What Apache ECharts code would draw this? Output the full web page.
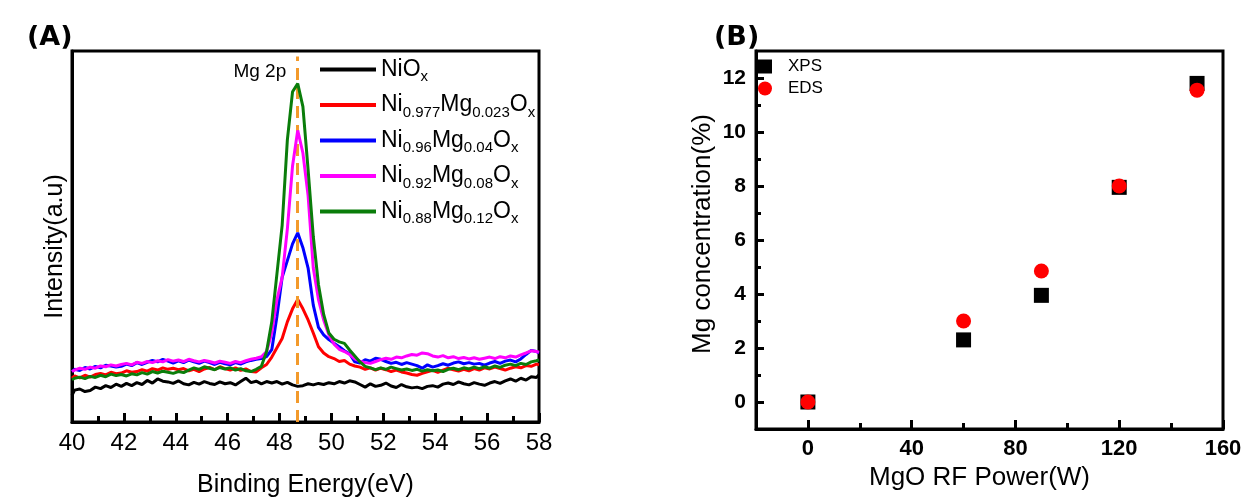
<!DOCTYPE html>
<html>
<head>
<meta charset="utf-8">
<script src="https://cdn.jsdelivr.net/npm/echarts@6/dist/echarts.min.js"></script>
<style>
  html, body { margin: 0; padding: 0; background: #ffffff; }
  #chart { width: 1250px; height: 503px; }
</style>
</head>
<body>
<div id="chart"></div>
<script>
// ---- Panel (A): Mg 2p XPS spectra ----
const energyEV = [
  40.0, 40.1, 40.3, 40.5, 40.7, 40.9, 41.1, 41.3, 41.5, 41.7,
  41.9, 42.1, 42.3, 42.5, 42.7, 42.9, 43.1, 43.3, 43.5, 43.7,
  43.9, 44.1, 44.3, 44.5, 44.7, 44.9, 45.1, 45.3, 45.5, 45.7,
  45.9, 46.1, 46.3, 46.5, 46.7, 46.9, 47.1, 47.3, 47.5, 47.7,
  47.9, 48.1, 48.3, 48.5, 48.7, 48.9, 49.1, 49.3, 49.5, 49.7,
  49.9, 50.1, 50.3, 50.5, 50.7, 50.9, 51.1, 51.3, 51.5, 51.7,
  51.9, 52.1, 52.3, 52.5, 52.7, 52.9, 53.1, 53.3, 53.5, 53.7,
  53.9, 54.1, 54.3, 54.5, 54.7, 54.9, 55.1, 55.3, 55.5, 55.7,
  55.9, 56.1, 56.3, 56.5, 56.7, 56.9, 57.1, 57.3, 57.5, 57.7,
  57.9, 58.0
];

const niOx = [
  7.2, 8.6, 8.9, 8.2, 8.5, 9.4, 9.0, 9.8, 9.3, 10.2,
  9.6, 10.4, 9.8, 10.6, 10.1, 11.2, 10.5, 11.6, 11.0, 10.8,
  10.4, 11.1, 10.3, 10.0, 10.7, 10.2, 10.9, 10.4, 10.1, 10.8,
  10.3, 10.6, 10.0, 10.9, 11.8, 10.6, 11.0, 10.3, 10.9, 10.5,
  10.9, 10.2, 10.7, 10.0, 9.6, 9.8, 10.3, 10.0, 10.4, 10.1,
  10.6, 10.3, 10.9, 10.5, 11.1, 10.8, 10.1, 9.4, 10.3, 9.6,
  9.9, 10.5, 9.7, 9.3, 10.1, 9.5, 9.2, 9.4, 9.0, 9.6,
  9.8, 9.4, 10.2, 10.5, 10.1, 10.8, 10.3, 10.0, 10.6, 10.2,
  9.9, 10.5, 10.9, 10.4, 11.1, 11.6, 11.0, 11.8, 11.3, 12.2,
  12.0, 12.7
];

const ni977 = [
  11.8, 12.4, 11.9, 12.6, 12.1, 12.8, 13.1, 12.7, 13.4, 13.0,
  13.2, 13.8, 13.4, 13.6, 14.1, 13.7, 14.4, 14.0, 14.6, 14.2,
  14.5, 14.1, 14.4, 13.8, 14.2, 13.6, 14.3, 14.7, 14.1, 14.9,
  14.4, 14.0, 14.6, 13.9, 14.3, 13.6, 13.5, 14.6, 15.5, 17.5,
  20.0, 22.5, 27.0, 30.5, 33.0, 30.5, 27.5, 24.0, 20.3, 18.6,
  17.6, 17.1, 16.3, 16.6, 15.6, 15.1, 14.8, 14.2, 14.6, 14.0,
  14.5, 14.1, 13.6, 14.0, 13.5, 13.2, 12.8, 12.6, 13.1, 13.5,
  13.9, 13.4, 14.0, 14.5, 14.1, 13.7, 14.2, 13.8, 14.4, 14.0,
  14.6, 14.3, 14.8, 14.4, 14.0, 14.5, 14.9, 14.6, 15.2, 15.0,
  15.6, 15.4
];

const ni96 = [
  13.6, 14.2, 13.9, 14.7, 14.3, 15.0, 14.6, 15.3, 15.1, 14.8,
  15.0, 15.6, 15.2, 16.0, 15.5, 16.1, 16.6, 16.2, 16.9, 16.4,
  15.9, 16.5, 16.0, 16.7, 16.2, 15.8, 16.4, 16.0, 15.5, 16.1,
  15.7, 15.4, 16.0, 15.6, 16.2, 16.6, 16.9, 17.1, 17.6, 19.5,
  28.5, 39.0, 43.5, 48.0, 51.0, 47.0, 41.5, 31.5, 25.5, 23.5,
  22.2, 21.2, 20.3, 19.2, 18.4, 16.2, 15.9, 16.8, 16.4, 17.2,
  16.9, 16.3, 15.8, 16.1, 15.5, 16.0, 15.6, 15.2, 14.5, 15.4,
  14.8, 15.2, 15.7, 15.3, 15.9, 16.2, 15.7, 16.0, 15.6, 15.8,
  15.3, 15.9, 16.3, 15.8, 16.4, 16.7, 16.2, 17.0, 18.2, 19.3,
  19.0, 18.6
];

const ni92 = [
  13.6, 14.0, 14.5, 14.2, 14.8, 14.5, 15.1, 14.9, 15.4, 15.1,
  15.5, 15.8, 15.4, 16.1, 15.8, 16.3, 16.0, 16.5, 16.2, 16.8,
  16.4, 16.7, 16.3, 16.9, 16.5, 16.2, 16.6, 16.3, 15.9, 16.4,
  16.1, 15.8, 16.3, 16.0, 16.5, 16.9, 17.2, 17.6, 19.0, 24.0,
  33.0, 39.0, 52.0, 69.0, 78.6, 72.5, 61.0, 41.5, 33.0, 27.5,
  23.5, 21.0, 19.6, 19.0, 18.2, 17.0, 16.4, 16.0, 15.8, 16.3,
  16.8, 17.2, 16.9, 17.5, 17.3, 17.8, 18.2, 18.0, 18.6, 18.4,
  17.8, 17.5, 17.9, 17.3, 17.6, 17.1, 17.4, 17.0, 17.3, 16.9,
  17.2, 17.5, 17.1, 17.6, 17.3, 17.8, 17.5, 18.1, 18.6, 19.2,
  19.0, 18.8
];

const ni88 = [
  11.4, 11.8, 12.1, 11.7, 12.3, 12.0, 12.6, 12.2, 12.9, 12.5,
  12.8, 12.4, 13.0, 12.7, 13.3, 12.9, 13.6, 13.2, 13.7, 13.4,
  13.1, 13.6, 13.3, 14.0, 14.6, 14.2, 14.9, 14.5, 14.1, 14.7,
  14.3, 14.6, 14.0, 14.4, 13.8, 13.6, 14.2, 15.0, 19.0, 27.0,
  40.0, 53.0, 76.0, 89.0, 91.2, 85.0, 68.0, 50.0, 37.0, 29.0,
  24.0, 22.3, 21.6, 21.2, 19.4, 17.8, 16.2, 15.0, 14.6, 14.1,
  14.6, 14.2, 14.8, 14.4, 14.0, 14.3, 13.9, 14.2, 13.7, 14.1,
  13.8, 14.0, 13.6, 14.2, 14.5, 14.1, 14.6, 14.3, 14.8, 14.4,
  14.9, 14.5, 15.1, 14.7, 15.3, 15.6, 15.2, 15.8, 15.5, 16.2,
  16.5, 16.7
];

const spectraNames  = ['NiOx', 'Ni0.977Mg0.023Ox', 'Ni0.96Mg0.04Ox', 'Ni0.92Mg0.08Ox', 'Ni0.88Mg0.12Ox'];
const spectraRich   = [
  '{m|NiO}{s|x}',
  '{m|Ni}{s|0.977}{m|Mg}{s|0.023}{m|O}{s|x}',
  '{m|Ni}{s|0.96}{m|Mg}{s|0.04}{m|O}{s|x}',
  '{m|Ni}{s|0.92}{m|Mg}{s|0.08}{m|O}{s|x}',
  '{m|Ni}{s|0.88}{m|Mg}{s|0.12}{m|O}{s|x}'
];
const spectraColors = ['#000000', '#ff0000', '#0000ff', '#ff00ff', '#0a7d0a'];
const spectraValues = [niOx, ni977, ni96, ni92, ni88];

const mg2pEnergy = 48.7;   // Mg 2p reference position (eV)
const mg2pLabel  = 'Mg 2p';

// ---- Panel (B): Mg content vs MgO RF power ----
const rfPower = [0, 60, 90, 120, 150];
const xpsMg   = [0, 2.3, 3.95, 7.95, 11.8];
const edsMg   = [0, 3.0, 4.85, 8.0, 11.55];

const powerTicks      = [0, 40, 80, 120, 160];
const powerMinorTicks = [20, 60, 100, 140];
const mgTicks         = [0, 2, 4, 6, 8, 10, 12];
const mgMinorTicks    = [1, 3, 5, 7, 9, 11];

const FONT = "'Liberation Sans', Arial, sans-serif";
const BLACK = '#000000';

const chart = echarts.init(document.getElementById('chart'), null, { renderer: 'canvas' });

const frame = { show: true, borderColor: BLACK, borderWidth: 3, backgroundColor: 'transparent' };

const spectraSeries = spectraNames.map((name, i) => {
  const s = {
    type: 'line',
    name: name,
    xAxisIndex: 0,
    yAxisIndex: 0,
    data: energyEV.map((e, k) => [e, spectraValues[i][k]]),
    symbol: 'none',
    lineStyle: { color: spectraColors[i], width: 3 },
    itemStyle: { color: spectraColors[i] },
    z: 2 + i
  };
  if (i === spectraNames.length - 1) {
    s.markLine = {
      silent: true,
      symbol: 'none',
      label: { show: false },
      lineStyle: { color: '#f39a2b', width: 3, type: [12, 7] },
      data: [[{ coord: [mg2pEnergy, 0] }, { coord: [mg2pEnergy, 98.5] }]]
    };
    s.markPoint = {
      silent: true,
      symbol: 'circle',
      symbolSize: 1,
      itemStyle: { color: 'rgba(0,0,0,0)' },
      label: {
        show: true, position: 'left', distance: 11,
        formatter: mg2pLabel, color: BLACK, fontFamily: FONT, fontSize: 19
      },
      data: [{ coord: [mg2pEnergy, 94.4] }]
    };
  }
  return s;
});

const option = {
  animation: false,
  backgroundColor: '#ffffff',
  title: [
    { text: '(A)', left: 22, top: 19,
      textStyle: { fontFamily: "'DejaVu Sans', sans-serif", fontWeight: 'bold', fontSize: 27, color: BLACK } },
    { text: '(B)', left: 709, top: 19,
      textStyle: { fontFamily: "'DejaVu Sans', sans-serif", fontWeight: 'bold', fontSize: 27, color: BLACK } }
  ],
  legend: [
    {
      data: spectraNames,
      orient: 'vertical',
      left: 320, top: 58,
      padding: 0,
      itemWidth: 56, itemHeight: 4, itemGap: 9,
      icon: 'rect',
      selectedMode: false,
      formatter: name => spectraRich[spectraNames.indexOf(name)],
      textStyle: {
        color: BLACK, fontFamily: FONT, fontSize: 23,
        rich: {
          m: { fontFamily: FONT, fontSize: 23, lineHeight: 30, color: BLACK },
          s: { fontFamily: FONT, fontSize: 15, lineHeight: 16, verticalAlign: 'bottom', color: BLACK }
        }
      }
    },
    {
      data: ['XPS', 'EDS'],
      orient: 'vertical',
      left: 758, top: 58,
      padding: 0,
      itemWidth: 14, itemHeight: 14, itemGap: 5,
      selectedMode: false,
      textStyle: { color: BLACK, fontFamily: FONT, fontSize: 17, padding: [0, 0, 0, 11] }
    }
  ],
  grid: [
    Object.assign({ left: 72, top: 51, width: 467, height: 378 }, frame),
    Object.assign({ left: 756, top: 51, width: 467, height: 378 }, frame)
  ],
  xAxis: [
    {
      type: 'value', gridIndex: 0, min: 40, max: 58, interval: 2,
      axisLine: { show: true, lineStyle: { color: BLACK, width: 3 } },
      axisTick: { show: true, inside: true, length: 9, lineStyle: { color: BLACK, width: 3 } },
      minorTick: { show: true, splitNumber: 2, length: 6, lineStyle: { color: BLACK, width: 3 } },
      axisLabel: { color: BLACK, fontFamily: FONT, fontSize: 24, margin: 9 },
      splitLine: { show: false },
      name: 'Binding Energy(eV)', nameLocation: 'middle', nameGap: 51,
      nameTextStyle: { color: BLACK, fontFamily: FONT, fontSize: 25 }
    },
    {
      type: 'value', gridIndex: 1, min: -20, max: 160, position: 'bottom',
      axisLine: { show: true, onZero: false, lineStyle: { color: BLACK, width: 3 } },
      axisTick: { show: true, inside: true, length: 9, customValues: powerTicks, lineStyle: { color: BLACK, width: 3 } },
      axisLabel: { customValues: powerTicks, color: BLACK, fontFamily: FONT, fontWeight: 'bold', fontSize: 22, margin: 9 },
      splitLine: { show: false },
      name: 'MgO RF Power(W)', nameLocation: 'middle', nameGap: 36,
      nameTextStyle: { color: BLACK, fontFamily: FONT, fontSize: 26, padding: [0, 20, 0, 0] }
    },
    {
      type: 'value', gridIndex: 1, min: -20, max: 160, position: 'bottom',
      axisLine: { show: false, onZero: false },
      axisTick: { show: true, inside: true, length: 6, customValues: powerMinorTicks, lineStyle: { color: BLACK, width: 3 } },
      axisLabel: { show: false },
      splitLine: { show: false }
    }
  ],
  yAxis: [
    {
      type: 'value', gridIndex: 0, min: 0, max: 100,
      axisLine: { show: true, lineStyle: { color: BLACK, width: 3 } },
      axisTick: { show: false },
      axisLabel: { show: false },
      splitLine: { show: false },
      name: 'Intensity(a.u)', nameLocation: 'middle', nameGap: 4,
      nameTextStyle: { color: BLACK, fontFamily: FONT, fontSize: 25, padding: [0, 20, 0, 0] }
    },
    {
      type: 'value', gridIndex: 1, min: -1, max: 13, position: 'left',
      axisLine: { show: true, onZero: false, lineStyle: { color: BLACK, width: 3 } },
      axisTick: { show: true, inside: true, length: 8, customValues: mgTicks, lineStyle: { color: BLACK, width: 3 } },
      axisLabel: { customValues: mgTicks, color: BLACK, fontFamily: FONT, fontWeight: 'bold', fontSize: 21, margin: 10 },
      splitLine: { show: false },
      name: 'Mg concentration(%)', nameLocation: 'middle', nameGap: 40,
      nameTextStyle: { color: BLACK, fontFamily: FONT, fontSize: 26, padding: [0, 0, 0, 12] }
    },
    {
      type: 'value', gridIndex: 1, min: -1, max: 13, position: 'left',
      axisLine: { show: false, onZero: false },
      axisTick: { show: true, inside: true, length: 5, customValues: mgMinorTicks, lineStyle: { color: BLACK, width: 3 } },
      axisLabel: { show: false },
      splitLine: { show: false }
    }
  ],
  series: spectraSeries.concat([
    {
      type: 'scatter', name: 'XPS', xAxisIndex: 1, yAxisIndex: 1,
      symbol: 'rect', symbolSize: 15,
      itemStyle: { color: BLACK, opacity: 1 },
      data: rfPower.map((p, i) => [p, xpsMg[i]]),
      z: 3
    },
    {
      type: 'scatter', name: 'EDS', xAxisIndex: 1, yAxisIndex: 1,
      symbol: 'circle', symbolSize: 15,
      itemStyle: { color: '#ff0000', opacity: 1 },
      data: rfPower.map((p, i) => [p, edsMg[i]]),
      z: 4
    }
  ])
};

chart.setOption(option);
</script>
</body>
</html>
